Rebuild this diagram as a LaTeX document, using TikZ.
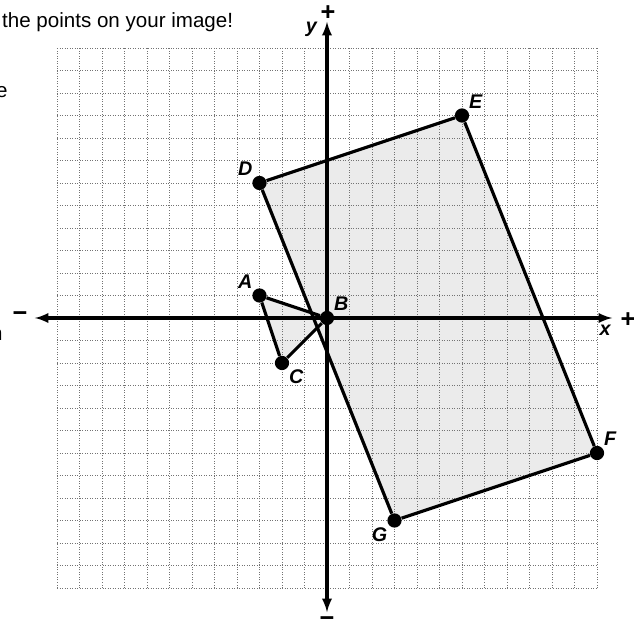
\documentclass[tikz,border=0pt]{standalone}
\usepackage{fontspec}
\setmainfont{Liberation Sans}
\usetikzlibrary{arrows,calc,positioning}
\tikzset{
  pt/.style={circle, fill=black, inner sep=0pt, minimum size=9pt},
  ptlabel/.style={font=\fontsize{12.5}{14}\selectfont\bfseries\itshape, inner sep=1pt},
  sgn/.style={font=\fontsize{16}{18}\selectfont\bfseries, inner sep=0pt},
  gridline/.style={gray!90!black, densely dotted, line width=0.6pt},
  edge/.style={line width=2pt, line join=round}
}

\begin{document}
\begin{tikzpicture}[scale=0.5]
        \useasboundingbox (-14.533,-13.733) rectangle (13.644,14.133);
        % Teks terpotong
        \node[anchor=base west, inner sep=0pt, font=\fontsize{13}{15}\selectfont] (note) at (-14.45,12.93) {the points on your image!};
        \node[anchor=base east, inner sep=0pt, font=\fontsize{13}{15}\selectfont] (note2) at (-14.18,9.82) {e};
        \node[anchor=base east, inner sep=0pt, font=\fontsize{13}{15}\selectfont] (note3) at (-14.40,-0.98) {n};
        % Daerah arsiran
        \fill[gray!16] (-3,6) -- (6,9) -- (12,-6) -- (3,-9) -- cycle;
        \fill[gray!16] (-3,1) -- (0,0) -- (-2,-2) -- cycle;
        % Grid
        \foreach \i in {-12,...,12} {
          \draw[gridline] (\i,-12) -- (\i,12);
          \draw[gridline] (-12,\i) -- (12,\i);
        }
        % Sumbu
        \draw[<->, >=latex, line width=1.9pt] (-12.98,0) -- (12.67,0);
        \draw[<->, >=latex, line width=1.9pt] (0,-13.07) -- (0,13.16);
        \node[sgn] (xminus) at (-13.64,0.05) {−};
        \node[sgn] (xplus) at (13.38,-0.08) {+};
        \node[sgn] (yplus) at (0.05,13.55) {+};
        \node[sgn, anchor=base] (yminus) at (0,-13.72) {−};
        \node[ptlabel] (xlab) at (12.36,-0.55) {x};
        \node[ptlabel] (ylab) at (-0.7,12.84) {y};
        % Titik
        \node[pt, label={[ptlabel]above left:A}] (A) at (-3,1) {};
        \node[pt, label={[ptlabel]above right:B}] (B) at (0,0) {};
        \node[pt, label={[ptlabel]below right:C}] (C) at (-2,-2) {};
        \node[pt, label={[ptlabel]above left:D}] (D) at (-3,6) {};
        \node[pt, label={[ptlabel]above right:E}] (E) at (6,9) {};
        \node[pt, label={[ptlabel]above right:F}] (F) at (12,-6) {};
        \node[pt, label={[ptlabel]below left:G}] (G) at (3,-9) {};
        % Segitiga dan persegi panjang
        \draw[edge] (A) -- (B) -- (C) -- (A);
        \draw[edge] (D) -- (E) -- (F) -- (G) -- (D);
      \end{tikzpicture}
\end{document}
